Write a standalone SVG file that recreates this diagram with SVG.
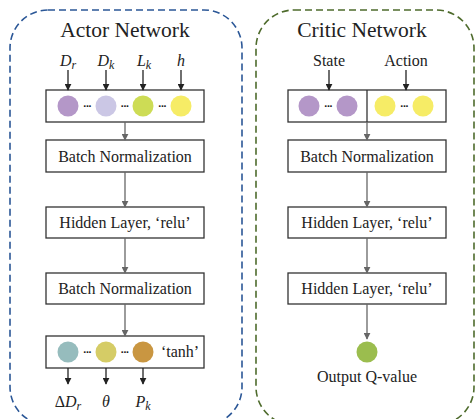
<svg xmlns="http://www.w3.org/2000/svg" width="475" height="419" viewBox="0 0 475 419">
<defs>
<style>
.title{font-family:"Liberation Serif",serif;font-size:21.5px;fill:#222;text-anchor:middle}
.lbl{font-family:"Liberation Serif",serif;font-size:16px;fill:#222;text-anchor:middle}
.it{font-family:"Liberation Serif",serif;font-size:16px;font-style:italic;fill:#222;text-anchor:middle}
.box{fill:#fff;stroke:#333;stroke-width:1.3}
.c{stroke:#666;stroke-width:1.3;fill:none}
.ci{stroke:#222;stroke-width:1.3;fill:none}
.dots{font-family:"DejaVu Sans",sans-serif;font-size:9px;font-weight:bold;fill:#222;text-anchor:middle;letter-spacing:-0.8px}
</style>
<marker id="ag" viewBox="0 0 10 10" refX="9" refY="5" markerWidth="7" markerHeight="7" markerUnits="userSpaceOnUse" orient="auto"><path d="M0,0 L10,5 L0,10 z" fill="#666"/></marker>
<marker id="ab" viewBox="0 0 10 10" refX="9" refY="5" markerWidth="7" markerHeight="7" markerUnits="userSpaceOnUse" orient="auto"><path d="M0,0 L10,5 L0,10 z" fill="#222"/></marker>
</defs>
<g id="actor-frame">
<rect x="10" y="10" width="232" height="415" rx="38" fill="none" stroke="#2b5797" stroke-width="1.6" stroke-dasharray="7,4"/>
<text class="title" x="125" y="37">Actor Network</text>
</g>
<g id="critic-frame">
<rect x="256" y="10" width="218" height="415" rx="38" fill="none" stroke="#4e6b2c" stroke-width="1.6" stroke-dasharray="7,4"/>
<text class="title" x="362" y="37">Critic Network</text>
</g>
<g id="actor-inputs">
<text class="it" x="68" y="66">D<tspan font-size="12" dy="3">r</tspan></text>
<text class="it" x="106" y="66">D<tspan font-size="12" dy="3">k</tspan></text>
<text class="it" x="144" y="66">L<tspan font-size="12" dy="3">k</tspan></text>
<text class="it" x="181" y="66">h</text>
</g>
<g id="actor-input-layer">
<rect class="box" x="46" y="90" width="158" height="32"/>
<circle cx="68" cy="106" r="10.5" fill="#b497c8"/>
<circle cx="106" cy="106" r="10.5" fill="#cbc7e5"/>
<circle cx="143" cy="106" r="10.5" fill="#cddc55"/>
<circle cx="181" cy="106" r="10.5" fill="#f6ec66"/>
<text class="dots" x="87" y="109">···</text>
<text class="dots" x="124.5" y="109">···</text>
<text class="dots" x="162" y="109">···</text>
</g>
<g id="actor-bn1"><rect class="box" x="46" y="140" width="158" height="32"/><text class="lbl" x="125" y="161.5">Batch Normalization</text></g>
<g id="actor-hidden"><rect class="box" x="46" y="207" width="158" height="31"/><text class="lbl" x="125" y="228">Hidden Layer, ‘relu’</text></g>
<g id="actor-bn2"><rect class="box" x="46" y="273" width="158" height="31"/><text class="lbl" x="125" y="294">Batch Normalization</text></g>
<g id="actor-output-layer">
<rect class="box" x="46" y="336" width="158" height="32"/>
<circle cx="68" cy="352" r="10.5" fill="#96bcbd"/>
<circle cx="106" cy="352" r="10.5" fill="#d5cc66"/>
<circle cx="143" cy="352" r="10.5" fill="#c99641"/>
<text class="dots" x="87" y="355">···</text>
<text class="dots" x="124.5" y="355">···</text>
<text class="lbl" x="180" y="357">‘tanh’</text>
</g>
<g id="actor-outputs">
<text class="it" x="68" y="407"><tspan font-style="normal">Δ</tspan>D<tspan font-size="12" dy="3">r</tspan></text>
<text class="it" x="106" y="407">θ</text>
<text class="it" x="143" y="407">P<tspan font-size="12" dy="3">k</tspan></text>
</g>
<g id="critic-inputs">
<text class="lbl" x="329" y="66">State</text>
<text class="lbl" x="406" y="66">Action</text>
</g>
<g id="critic-input-layer">
<rect class="box" x="288" y="90" width="158" height="32"/>
<line x1="367" y1="90" x2="367" y2="122" stroke="#333" stroke-width="1.3"/>
<circle cx="309" cy="106" r="10.5" fill="#b497c8"/>
<circle cx="347" cy="106" r="10.5" fill="#b497c8"/>
<circle cx="385" cy="106" r="10.5" fill="#f6ec66"/>
<circle cx="423" cy="106" r="10.5" fill="#f6ec66"/>
<text class="dots" x="328" y="109">···</text>
<text class="dots" x="404" y="109">···</text>
</g>
<g id="critic-bn"><rect class="box" x="288" y="140" width="158" height="32"/><text class="lbl" x="367" y="161.5">Batch Normalization</text></g>
<g id="critic-hidden1"><rect class="box" x="288" y="207" width="158" height="31"/><text class="lbl" x="367" y="228">Hidden Layer, ‘relu’</text></g>
<g id="critic-hidden2"><rect class="box" x="288" y="273" width="158" height="31"/><text class="lbl" x="367" y="294">Hidden Layer, ‘relu’</text></g>
<g id="critic-output">
<circle cx="367" cy="352" r="10.5" fill="#9bbd4e"/>
<text class="lbl" x="367" y="382">Output Q-value</text>
</g>
<g id="connectors">
<line class="ci" x1="68" y1="70" x2="68" y2="90" marker-end="url(#ab)"/>
<line class="ci" x1="106" y1="70" x2="106" y2="90" marker-end="url(#ab)"/>
<line class="ci" x1="143" y1="70" x2="143" y2="90" marker-end="url(#ab)"/>
<line class="ci" x1="181" y1="70" x2="181" y2="90" marker-end="url(#ab)"/>
<line class="c" x1="125" y1="122" x2="125" y2="140" marker-end="url(#ag)"/>
<line class="c" x1="125" y1="172" x2="125" y2="207" marker-end="url(#ag)"/>
<line class="c" x1="125" y1="238" x2="125" y2="273" marker-end="url(#ag)"/>
<line class="c" x1="125" y1="304" x2="125" y2="336" marker-end="url(#ag)"/>
<line class="ci" x1="68" y1="368" x2="68" y2="384" marker-end="url(#ab)"/>
<line class="ci" x1="106" y1="368" x2="106" y2="384" marker-end="url(#ab)"/>
<line class="ci" x1="143" y1="368" x2="143" y2="384" marker-end="url(#ab)"/>
<line class="ci" x1="329" y1="70" x2="329" y2="90" marker-end="url(#ab)"/>
<line class="ci" x1="406" y1="70" x2="406" y2="90" marker-end="url(#ab)"/>
<line class="c" x1="367" y1="122" x2="367" y2="140" marker-end="url(#ag)"/>
<line class="c" x1="367" y1="172" x2="367" y2="207" marker-end="url(#ag)"/>
<line class="c" x1="367" y1="238" x2="367" y2="273" marker-end="url(#ag)"/>
<line class="c" x1="367" y1="304" x2="367" y2="339" marker-end="url(#ag)"/>
</g>
</svg>
